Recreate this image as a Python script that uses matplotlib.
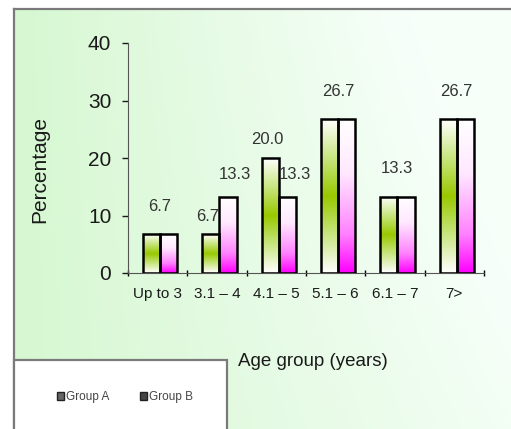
import numpy as np
import matplotlib
matplotlib.use('Agg')
import matplotlib.pyplot as plt
from matplotlib.colors import LinearSegmentedColormap
from matplotlib.patches import Rectangle, Patch

####################################
# Data
####################################

age_groups = ['Up to 3', '3.1 – 4', '4.1 – 5', '5.1 – 6', '6.1 – 7', '7>']
group_a = [6.7, 6.7, 20.0, 26.7, 13.3, 26.7]
group_b = [6.7, 13.3, 13.3, 26.7, 13.3, 26.7]
series_names = ['Group A', 'Group B']

####################################
# Style
####################################

plt.rcParams['font.family'] = ['Liberation Sans', 'DejaVu Sans']
W, H = 511, 429

cmap_a = LinearSegmentedColormap.from_list('a', ['#ffffff', '#c8e680', '#99c800', '#c8e680', '#ffffff'])
cmap_b = LinearSegmentedColormap.from_list('b', [(0, '#ffffff'), (0.35, '#ffe8ff'), (0.75, '#ff80ff'), (1, '#ff00ff')])
grad = np.linspace(0, 1, 256).reshape(-1, 1)

fig = plt.figure(figsize=(W / 100, H / 100), dpi=100)

# background panel with a soft green gradient
bg = fig.add_axes([14 / W, 0, 1 - 14 / W, 1 - 9 / H], zorder=-5)
yy, xx = np.mgrid[0:1:200j, 0:1:200j]
w = np.clip(1 - 1.15 * xx * (0.75 + 0.35 * (1 - yy)), 0, 1)
green = np.array([0.84, 0.97, 0.82])
img = (1 - w[..., None]) * 1.0 + w[..., None] * green
img[..., 0] = np.clip(img[..., 0] - 0.03 * (1 - w), 0, 1)
img[..., 2] = np.clip(img[..., 2] - 0.02 * (1 - w), 0, 1)
bg.imshow(img, aspect='auto', extent=[0, 1, 0, 1])
bg.set_xticks([])
bg.set_yticks([])
for s in ['left', 'top']:
    bg.spines[s].set_color('#7a7a7a')
    bg.spines[s].set_linewidth(1.6)
for s in ['right', 'bottom']:
    bg.spines[s].set_visible(False)

####################################
# Chart
####################################

ax = fig.add_axes([128 / W, 1 - 273 / H, 356 / W, 230 / H])
ax.patch.set_alpha(0)
n = len(age_groups)
x = np.arange(n) + 0.5
bw = 0.29
off = 0.04

bars_a = ax.bar(x + off - bw / 2, group_a, bw, facecolor='none', edgecolor='black', lw=1.8, zorder=3)
bars_b = ax.bar(x + off + bw / 2, group_b, bw, facecolor='none', edgecolor='black', lw=1.8, zorder=3)

for bars, cm in [(bars_a, cmap_a), (bars_b, cmap_b)]:
    for b in bars:
        x0, h = b.get_x(), b.get_height()
        im = ax.imshow(grad, cmap=cm, aspect='auto', origin='upper',
                       extent=[x0, x0 + b.get_width(), 0, h], zorder=2)
        im.set_clip_path(b)

# value labels
for i in range(n):
    if group_a[i] == group_b[i]:
        ax.text(x[i] + off, group_a[i] + 4.8, '%.1f' % group_a[i], ha='center', va='center',
                fontsize=12, color='#333333')
    else:
        ax.text(x[i] + off - bw / 2 - 0.05, group_a[i] + 3.2, '%.1f' % group_a[i], ha='center',
                va='center', fontsize=12, color='#333333')
        ax.text(x[i] + off + bw / 2 + 0.12, group_b[i] + 3.9, '%.1f' % group_b[i], ha='center',
                va='center', fontsize=12, color='#333333')

ax.set_xlim(0, n)
ax.set_ylim(0, 40)
ax.set_yticks([0, 10, 20, 30, 40])
ax.tick_params(axis='y', labelsize=15, length=4, width=1, pad=8, colors='#1a1a1a')
ax.set_xticks(x)
ax.set_xticklabels(age_groups)
ax.tick_params(axis='x', which='major', length=0, labelsize=11, pad=10, colors='#1a1a1a')
ax.set_xticks(np.arange(n + 1), minor=True)
ax.tick_params(axis='x', which='minor', length=4, width=1, direction='inout')
for s in ['top', 'right']:
    ax.spines[s].set_visible(False)
for s in ['left', 'bottom']:
    ax.spines[s].set_color('#555555')
ax.set_ylabel('Percentage', fontsize=15, color='#1a1a1a')
ax.yaxis.set_label_coords(-0.22, 0.45)

fig.text(313 / W, 1 - 362 / H, 'Age group (years)', ha='center', va='center', fontsize=13.5,
         color='#1a1a1a')

# legend box
fig.patches.append(Rectangle((14 / W, -0.05), 213 / W, 0.05 + 69 / H, transform=fig.transFigure,
                             facecolor='white', edgecolor='#7a7a7a', lw=1.6, zorder=1))
handles = [Patch(facecolor='#666666', edgecolor='#222222'), Patch(facecolor='#444444', edgecolor='#222222')]
leg = fig.legend(handles, series_names, loc='center', bbox_to_anchor=(125 / W, 1 - 397 / H),
                 ncol=2, frameon=False, fontsize=8.5, handlelength=0.6, handleheight=0.6,
                 handletextpad=0.2, columnspacing=2.6)
for t in leg.get_texts():
    t.set_color('#444444')
leg.set_zorder(5)

fig.savefig('out.png', dpi=100)
